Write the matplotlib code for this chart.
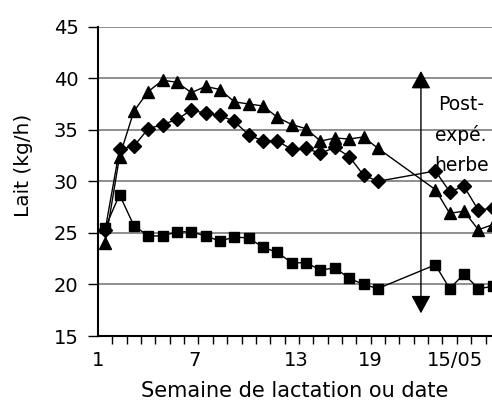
import numpy as np
import matplotlib.pyplot as plt
from matplotlib.ticker import FixedLocator

# Week index (categories), gap 21-23 where the arrow sits
weeks = list(range(1, 21)) + [24, 25, 26, 27, 28]

# Three series
triangles = [24.0, 32.4, 36.8, 38.7, 39.8, 39.6, 38.6, 39.2, 38.9, 37.7,
             37.5, 37.3, 36.2, 35.5, 35.1, 33.9, 34.2, 34.1, 34.3, 33.2,
             29.2, 26.9, 27.1, 25.3, 25.8]
diamonds = [25.3, 33.1, 33.4, 35.1, 35.5, 36.0, 36.9, 36.6, 36.4, 35.8,
            34.5, 33.9, 33.9, 33.1, 33.2, 32.7, 33.3, 32.4, 30.6, 30.0,
            31.0, 29.0, 29.5, 27.2, 27.4]
squares = [25.5, 28.7, 25.7, 24.7, 24.7, 25.1, 25.1, 24.7, 24.2, 24.6,
           24.5, 23.6, 23.1, 22.1, 22.1, 21.4, 21.6, 20.6, 20.0, 19.6,
           21.9, 19.6, 21.0, 19.6, 19.8]

tick_labels = ['1', '7', '13', '19', '15/05']
label_pos = [0.5, 7.2, 14.3, 19.45, 25.4]

arrow_week = 23
arrow_top, arrow_bottom = 40.7, 17.2

fig = plt.figure(figsize=(4.92, 4.03), dpi=100)
ax = fig.add_axes([98 / 492, 1 - 336 / 403, 394 / 492, (336 - 26.6) / 403])

ax.plot(weeks, squares, color='black', lw=1, marker='s', ms=6.5, zorder=3)
ax.plot(weeks, diamonds, color='black', lw=1, marker='D', ms=6.8, zorder=3)
ax.plot(weeks, triangles, color='black', lw=1, marker='^', ms=8, zorder=3)

# double arrow marking end of experiment
ax.annotate('', xy=(arrow_week, arrow_top), xytext=(arrow_week, arrow_bottom),
            arrowprops=dict(arrowstyle='<|-|>,head_length=1.1,head_width=0.6',
                            color='black', lw=1, shrinkA=0, shrinkB=0,
                            mutation_scale=10), zorder=4)
ax.text(25.8, 34.5, 'Post-\nexpé.\nherbe', ha='center', va='center',
        fontsize=13.5, linespacing=1.7)

ax.set_xlim(0.5, 27.95)
ax.set_ylim(15, 45)
ax.set_yticks(np.arange(15, 46, 5))
ax.set_xticks(label_pos)
ax.set_xticklabels(tick_labels)
ax.xaxis.set_minor_locator(FixedLocator(np.arange(0.5, 28, 1)))

ax.yaxis.grid(True, color='#707070', lw=1.1)
ax.set_axisbelow(True)

for s in ['top', 'right']:
    ax.spines[s].set_visible(False)
for s in ['left', 'bottom']:
    ax.spines[s].set_linewidth(1.5)

ax.tick_params(axis='y', direction='out', length=7, width=1, pad=7, labelsize=14)
ax.tick_params(axis='x', which='major', length=0, pad=11, labelsize=14)
ax.tick_params(axis='x', which='minor', direction='out', length=6, width=1)

ax.set_xlabel('Semaine de lactation ou date', fontsize=15, labelpad=8)
ax.set_ylabel('Lait (kg/h)', fontsize=14.5)
ax.yaxis.set_label_coords(-0.165, 0.55)

fig.savefig('out.png', dpi=100)
